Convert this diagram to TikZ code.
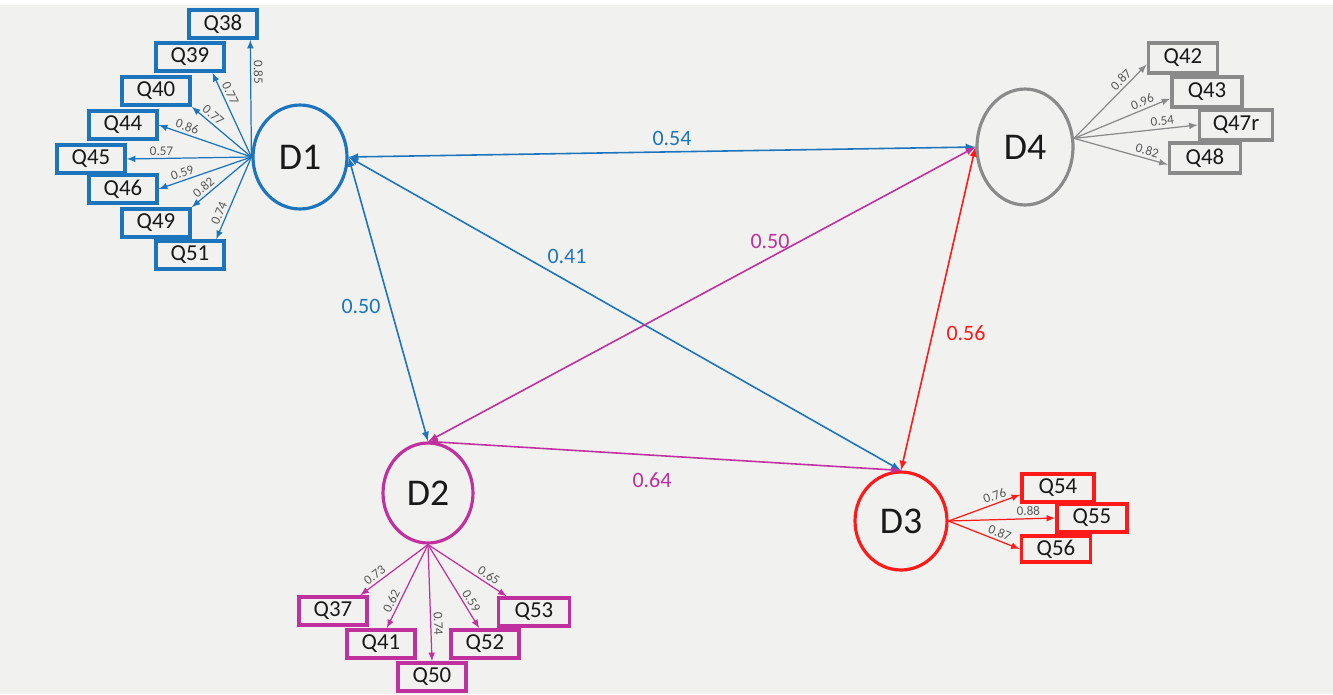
\documentclass[tikz,border=0pt]{standalone}
\usepackage{fontspec}
\setmainfont{Carlito}
\usetikzlibrary{shapes.geometric, arrows}

\definecolor{dblue}{HTML}{1C75BC}
\definecolor{dmag}{HTML}{C0309F}
\definecolor{dred}{HTML}{FF1A1A}
\definecolor{dgray}{HTML}{8A8A8A}
\definecolor{bgcol}{HTML}{F1F1F0}

\tikzset{
  factor/.style={draw, ellipse, line width=1.8pt, inner sep=0pt, text=black!90, font=\fontsize{21.5}{21.5}\selectfont},
  item/.style={draw, rectangle, line width=2pt, inner sep=0pt, minimum width=1.36cm, minimum height=0.56cm, text=black!90, font=\fontsize{13}{13}\selectfont},
  load/.style={-latex, line width=0.7pt},
  corr/.style={latex-latex, line width=0.9pt},
  wt/.style={sloped, above, inner sep=1.5pt, text=black!65, font=\fontsize{7.5}{7.5}\selectfont},
  cw/.style={font=\fontsize{12.5}{12.5}\selectfont}
}

\begin{document}
\begin{tikzpicture}[x=0.02cm, y=-0.02cm]
% background
\fill[bgcol] (0,0) rectangle (1333,694);
\fill[white] (0,0) rectangle (1333,5);

% factors
\node[factor, draw=dblue, minimum width=1.88cm, minimum height=2.08cm] (D1) at (300,157) {D1};
\node[factor, draw=dmag, minimum width=1.8cm, minimum height=2.0cm] (D2) at (428,493) {D2};
\node[factor, draw=dred, minimum width=1.84cm, minimum height=1.96cm] (D3) at (901,521) {D3};
\node[factor, draw=dgray, minimum width=1.92cm, minimum height=2.32cm] (D4) at (1025,147) {D4};

% items of D1
\node[item, draw=dblue] (Q38) at (223,24) {Q38};
\node[item, draw=dblue] (Q39) at (190,57) {Q39};
\node[item, draw=dblue] (Q40) at (156,91) {Q40};
\node[item, draw=dblue] (Q44) at (123,125) {Q44};
\node[item, draw=dblue] (Q45) at (91,159) {Q45};
\node[item, draw=dblue] (Q46) at (123,189) {Q46};
\node[item, draw=dblue] (Q49) at (156,223) {Q49};
\node[item, draw=dblue] (Q51) at (190,255) {Q51};

% items of D2
\node[item, draw=dmag] (Q37) at (333,611) {Q37};
\node[item, draw=dmag] (Q41) at (381,644) {Q41};
\node[item, draw=dmag] (Q50) at (432,677) {Q50};
\node[item, draw=dmag] (Q52) at (485,644) {Q52};
\node[item, draw=dmag, minimum width=1.42cm] (Q53) at (534,612) {Q53};

% items of D3
\node[item, draw=dred, minimum width=1.44cm] (Q54) at (1058,488) {Q54};
\node[item, draw=dred, minimum width=1.4cm] (Q55) at (1092,518) {Q55};
\node[item, draw=dred, minimum width=1.38cm, minimum height=0.52cm] (Q56) at (1056,549) {Q56};

% items of D4
\node[item, draw=dgray, minimum width=1.38cm, minimum height=0.6cm] (Q42) at (1183,58) {Q42};
\node[item, draw=dgray, minimum width=1.4cm, minimum height=0.6cm] (Q43) at (1207,92) {Q43};
\node[item, draw=dgray, minimum width=1.46cm, minimum height=0.6cm] (Q47r) at (1236,125) {Q47r};
\node[item, draw=dgray, minimum width=1.42cm, minimum height=0.6cm] (Q48) at (1205,158) {Q48};

% correlations between factors
\draw[corr, dblue] (D1.east) -- (D4.west);
\draw[corr, dblue] (D1.east) -- (D2.north);
\draw[corr, dblue] (D1.east) -- (D3.north);
\draw[corr, dmag] (D4.west) -- (D2.north);
\draw[corr, dred] (D4.west) -- (D3.north);
\draw[corr, dmag] (D2.north) -- (D3.north);

\node[cw, text=dblue] (r14) at (672,138) {0.54};
\node[cw, text=dblue] (r12) at (361,306) {0.50};
\node[cw, text=dblue] (r13) at (567,256) {0.41};
\node[cw, text=dmag] (r24) at (770,241) {0.50};
\node[cw, text=dred] (r34) at (966,333) {0.56};
\node[cw, text=dmag] (r23) at (652,480) {0.64};

% loadings D1
\draw[load, dblue] (D1.west) -- node[wt, pos=0.72] {0.85} (Q38.-30);
\draw[load, dblue] (D1.west) -- node[wt, pos=0.72] {0.77} (Q39.-35);
\draw[load, dblue] (D1.west) -- node[wt, pos=0.72] {0.77} (Q40.south east);
\draw[load, dblue] (D1.west) -- node[wt, pos=0.72] {0.86} (Q44.east);
\draw[load, dblue] (D1.west) -- node[wt, pos=0.72] {0.57} (Q45.east);
\draw[load, dblue] (D1.west) -- node[wt, pos=0.72] {0.59} (Q46.east);
\draw[load, dblue] (D1.west) -- node[wt, pos=0.72] {0.82} (Q49.north east);
\draw[load, dblue] (D1.west) -- node[wt, pos=0.72] {0.74} (Q51.31);

% loadings D2
\draw[load, dmag] (D2.south) -- node[wt, pos=0.72] {0.73} (Q37.30);
\draw[load, dmag] (D2.south) -- node[wt, pos=0.72] {0.62} (Q41.70);
\draw[load, dmag] (D2.south) -- node[wt, pos=0.68] {0.74} (Q50.north);
\draw[load, dmag] (D2.south) -- node[wt, pos=0.72] {0.59} (Q52.110);
\draw[load, dmag] (D2.south) -- node[wt, pos=0.72] {0.65} (Q53.150);

% loadings D3
\draw[load, dred] (D3.east) -- node[wt, pos=0.68] {0.76} (Q54.190);
\draw[load, dred] (D3.east) -- node[wt, pos=0.75] {0.88} (Q55.west);
\draw[load, dred] (D3.east) -- node[wt, pos=0.68] {0.87} (Q56.west);

% loadings D4
\draw[load, dgray] (D4.10) -- node[wt, pos=0.72] {0.87} (Q42.190);
\draw[load, dgray] (D4.10) -- node[wt, pos=0.74] {0.96} (Q43.190);
\draw[load, dgray] (D4.10) -- node[wt, pos=0.72] {0.54} (Q47r.west);
\draw[load, dgray] (D4.10) -- node[wt, pos=0.76] {0.82} (Q48.190);
\end{tikzpicture}
\end{document}
